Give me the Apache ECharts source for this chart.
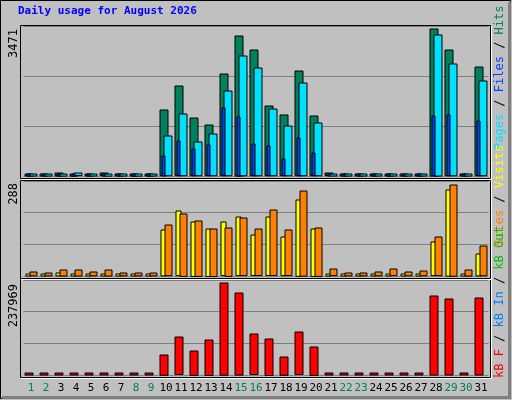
<!DOCTYPE html>
<html><head><meta charset="utf-8">
<script src="https://cdn.jsdelivr.net/npm/echarts@6/dist/echarts.min.js"></script>
<style>html,body{margin:0;padding:0;background:#c0c0c0}#c{width:512px;height:400px}</style>
</head><body><div id="c"></div>
<script>
const days = ['1','2','3','4','5','6','7','8','9','10','11','12','13','14','15','16','17','18','19','20','21','22','23','24','25','26','27','28','29','30','31'];
const weekend = ['1','2','8','9','15','16','22','23','29','30'];
const hits  = [30,40,70,50,30,60,30,40,30,1551,2117,1362,1196,2400,3306,2967,1645,1432,2471,1409,60,30,40,40,40,40,40,3471,2967,40,2566];
const pages = [10,20,50,60,10,50,10,50,10,937,1456,795,984,1999,2826,2542,1574,1173,2188,1244,40,10,20,20,20,20,20,3329,2637,20,2235];
const files = [5,5,30,50,5,50,5,50,5,472,819,630,724,1598,1393,748,701,394,890,535,30,5,5,5,5,5,5,1409,1432,5,1291];
const visits = [2,2,9,2,2,2,2,0,2,145,204,172,150,169,185,128,185,122,241,150,2,2,2,2,2,2,2,106,272,2,69];
const sites  = [12,9,19,19,12,19,9,9,9,160,197,175,150,153,182,147,207,144,269,153,21,9,9,12,21,12,15,122,288,19,94];
const kbF = [1500,1500,1500,1500,1500,1500,1500,1500,1500,52300,96760,62760,91530,237969,211820,104600,94140,47070,109830,73220,1500,1500,1500,1500,1500,1500,1500,203970,196130,1500,198740];
const maxLabels = ['3471','288','237969'];

const chart = echarts.init(document.getElementById('c'));
function bar(data, axisIdx, color, off, w, z) {
  return {
    type: 'custom', xAxisIndex: axisIdx, yAxisIndex: axisIdx, z: z || 2,
    data: data.map((v, i) => [i, v]),
    renderItem: function (params, api) {
      const i = api.value(0), v = api.value(1);
      const top = api.coord([i, v]), base = api.coord([i, 0]);
      const h = Math.max(base[1] - top[1], 2);
      return { type: 'rect', shape: { x: Math.round(top[0] + off - w / 2), y: Math.round(base[1] - h), width: w, height: h },
        style: { fill: color, stroke: '#000', lineWidth: 1 } };
    }
  };
}
const grids = [{ top: 26, height: 150 }, { top: 181, height: 95 }, { top: 280, height: 95 }]
  .map(g => Object.assign({ left: 23.5, right: 23.5 }, g));
const maxes = [3471 * 1.02, 300, 237969 * 1.03];
const mono = 'DejaVu Sans Mono';
function vtext(x, yBottom, parts) {
  const rich = {}; let str = '';
  parts.forEach((p, k) => { rich['p' + k] = { fill: p[1], font: '12px ' + mono }; str += '{p' + k + '|' + p[0] + '}'; });
  return { type: 'text', x: x, y: yBottom, rotation: Math.PI / 2, style: { text: str, rich: rich, verticalAlign: 'middle', align: 'left' }, z: 10 };
}
const panels = [[20, 25, 470, 153], [20, 180, 470, 98], [20, 279, 470, 98]];
const graphic = [
  { type: 'rect', shape: { x: 0.5, y: 0.5, width: 510, height: 398 }, style: { fill: '#c0c0c0', stroke: '#000' }, z: -10 },
  { type: 'rect', shape: { x: 508, y: 2, width: 3, height: 397 }, style: { fill: '#808080' }, z: -9 },
  { type: 'rect', shape: { x: 2, y: 396, width: 509, height: 3 }, style: { fill: '#808080' }, z: -9 },
  { type: 'text', x: 18, y: 6, style: { text: 'Daily usage for August 2026', fill: '#0000ff', font: 'bold 11px ' + mono }, z: 10 }
];
panels.forEach(p => {
  graphic.push({ type: 'rect', shape: { x: p[0] + 0.5, y: p[1] + 0.5, width: p[2], height: p[3] }, style: { fill: '#c0c0c0', stroke: '#000' }, z: -5 });
  graphic.push({ type: 'polyline', shape: { points: [[p[0] + 1, p[1] + p[3] + 1.5], [p[0] + p[2] + 1.5, p[1] + p[3] + 1.5], [p[0] + p[2] + 1.5, p[1] + 1]] }, style: { stroke: '#fff', lineWidth: 1 }, z: -4 });
});
[[29, 0], [183, 1], [284, 2]].forEach(a => {
  graphic.push({ type: 'text', x: 14, y: a[0], rotation: Math.PI / 2, style: { text: maxLabels[a[1]], fill: '#000', font: '12px ' + mono, align: 'right', verticalAlign: 'middle' }, z: 10 });
});
graphic.push(vtext(500, 150, [['Pages', '#00e0ff'], [' / ', '#000'], ['Files', '#0040ff'], [' / ', '#000'], ['Hits', '#00805c']]));
graphic.push(vtext(500, 246, [['Sites', '#ff8000'], [' / ', '#000'], ['Visits', '#ffff00']]));
graphic.push(vtext(500, 378, [['kB F', '#ff0000'], [' / ', '#000'], ['kB In', '#0080ff'], [' / ', '#000'], ['kB Out', '#00c000']]));

chart.setOption({
  animation: false,
  grid: grids,
  graphic: graphic,
  xAxis: [0, 1, 2].map(k => ({
    type: 'category', gridIndex: k, data: days,
    axisLine: { show: false }, axisTick: { show: false },
    axisLabel: k === 2 ? { show: true, margin: 8, fontFamily: mono, fontSize: 11, interval: 0,
      color: v => weekend.includes(v) ? '#00805c' : '#000' } : { show: false }
  })),
  yAxis: [0, 1, 2].map(k => ({
    type: 'value', gridIndex: k, min: 0, max: maxes[k], interval: maxes[k] / 3,
    axisLabel: { show: false }, axisLine: { show: false }, axisTick: { show: false },
    splitLine: { lineStyle: { color: '#808080', width: 1 } }
  })),
  series: [
    bar(hits, 0, '#00805c', -2, 8, 2),
    bar(pages, 0, '#00e0ff', 2, 8, 3),
    bar(files, 0, '#0040ff', -2.5, 3, 4),
    bar(visits, 1, '#ffff00', -3, 5, 2),
    bar(sites, 1, '#ff8000', 2, 7, 3),
    bar(kbF, 2, '#ff0000', -2, 8, 2)
  ]
});
</script></body></html>
